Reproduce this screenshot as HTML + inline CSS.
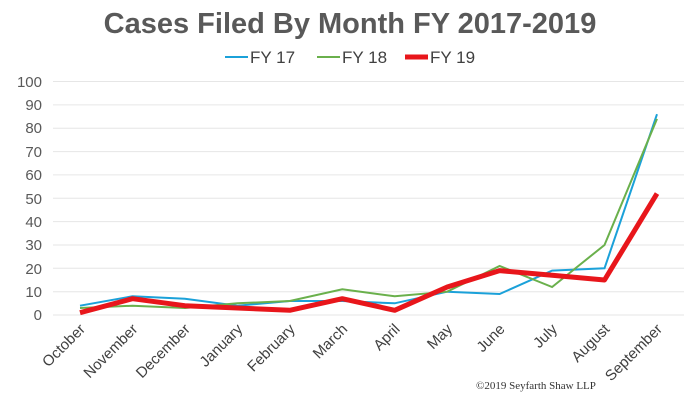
<!DOCTYPE html>
<html><head><style>body{margin:0;background:#fff}svg{display:block}</style></head><body>
<svg width="700" height="400" xmlns="http://www.w3.org/2000/svg" font-family="Liberation Sans, sans-serif">
<text x="350" y="33" text-anchor="middle" font-size="29" font-weight="bold" fill="#595959">Cases Filed By Month FY 2017-2019</text>
<g font-size="17" fill="#404040">
<line x1="225" y1="57" x2="248" y2="57" stroke="#1ba1d9" stroke-width="2"/><text x="250" y="63">FY 17</text>
<line x1="317" y1="57" x2="340" y2="57" stroke="#6ab04c" stroke-width="2"/><text x="342" y="63">FY 18</text>
<line x1="405" y1="57" x2="428" y2="57" stroke="#e8161b" stroke-width="5"/><text x="430" y="63">FY 19</text>
</g>
<g stroke="#e6e6e6" stroke-width="1">
<line x1="53" x2="684" y1="81.5" y2="81.5"/><line x1="53" x2="684" y1="104.9" y2="104.9"/><line x1="53" x2="684" y1="128.2" y2="128.2"/><line x1="53" x2="684" y1="151.6" y2="151.6"/><line x1="53" x2="684" y1="174.9" y2="174.9"/><line x1="53" x2="684" y1="198.3" y2="198.3"/><line x1="53" x2="684" y1="221.6" y2="221.6"/><line x1="53" x2="684" y1="245" y2="245"/><line x1="53" x2="684" y1="268.3" y2="268.3"/><line x1="53" x2="684" y1="291.7" y2="291.7"/><line x1="53" x2="684" y1="315" y2="315"/>
</g>
<g font-size="15" fill="#595959" text-anchor="end">
<text x="42" y="87">100</text><text x="42" y="110">90</text><text x="42" y="133">80</text><text x="42" y="157">70</text><text x="42" y="180">60</text><text x="42" y="204">50</text><text x="42" y="227">40</text><text x="42" y="250">30</text><text x="42" y="274">20</text><text x="42" y="297">10</text><text x="42" y="320">0</text>
</g>
<polyline fill="none" stroke="#1ba1d9" stroke-width="2" points="80,305.7 132.5,296.3 184.9,298.7 237.4,305.7 289.8,301 342.3,301 394.7,303.3 447.2,291.7 499.6,294 552.1,270.6 604.5,268.3 657,114.2"/>
<polyline fill="none" stroke="#6ab04c" stroke-width="2" points="80,308 132.5,305.7 184.9,308 237.4,303.3 289.8,301 342.3,289.3 394.7,296.3 447.2,291.7 499.6,266 552.1,287 604.5,245 657,118.9"/>
<polyline fill="none" stroke="#e8161b" stroke-width="5" stroke-linejoin="round" points="80,312.7 132.5,298.7 184.9,305.7 237.4,308 289.8,310.3 342.3,298.7 394.7,310.3 447.2,287 499.6,270.6 552.1,275.3 604.5,280 657,193.6"/>
<g font-size="15" fill="#404040" text-anchor="end">
<text transform="translate(86,330) rotate(-45)">October</text>
<text transform="translate(138.5,330) rotate(-45)">November</text>
<text transform="translate(190.9,330) rotate(-45)">December</text>
<text transform="translate(243.4,330) rotate(-45)">January</text>
<text transform="translate(295.8,330) rotate(-45)">February</text>
<text transform="translate(348.3,330) rotate(-45)">March</text>
<text transform="translate(400.7,330) rotate(-45)">April</text>
<text transform="translate(453.2,330) rotate(-45)">May</text>
<text transform="translate(505.6,330) rotate(-45)">June</text>
<text transform="translate(558.1,330) rotate(-45)">July</text>
<text transform="translate(610.5,330) rotate(-45)">August</text>
<text transform="translate(663,330) rotate(-45)">September</text>
</g>
<text x="476" y="389" font-family="Liberation Serif, serif" font-size="11" fill="#333">©2019 Seyfarth Shaw LLP</text>
</svg>
</body></html>
